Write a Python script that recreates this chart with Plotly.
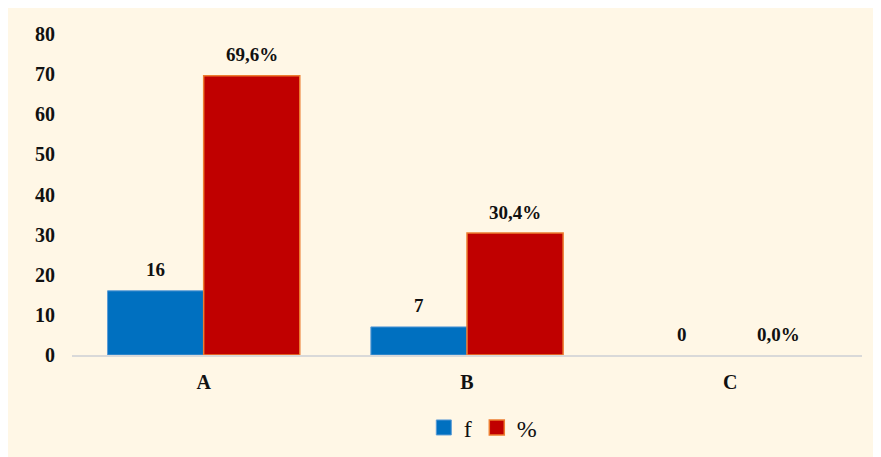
import plotly.graph_objects as go

categories = ["A", "B", "C"]
f_values = [16, 7, 0]
pct_values = [69.6, 30.4, 0.0]
y_ticks = [0, 10, 20, 30, 40, 50, 60, 70, 80]

L, R, T, B = 64, 27, 26, 110
W, H = 881, 457

font_fam = "Liberation Serif, Times New Roman, serif"
bg = "#FFF7E6"

fig = go.Figure()
fig.add_trace(go.Bar(
    name="f", x=categories, y=f_values, showlegend=False,
    marker=dict(color="#0070C0",
                line=dict(color="#5B9BD5", width=[1 if v else 0 for v in f_values])),
    offsetgroup="f",
))
fig.add_trace(go.Bar(
    name="%", x=categories, y=pct_values, showlegend=False,
    marker=dict(color="#C00000",
                line=dict(color="#ED7D31", width=[1.5 if v else 0 for v in pct_values])),
    offsetgroup="p",
))
# legend entries with larger square swatches
fig.add_trace(go.Scatter(name="f", x=[None], y=[None], mode="markers",
                         marker=dict(symbol="square", size=15, color="#0070C0",
                                     line=dict(color="#5B9BD5", width=1))))
fig.add_trace(go.Scatter(name="%", x=[None], y=[None], mode="markers",
                         marker=dict(symbol="square", size=15, color="#C00000",
                                     line=dict(color="#ED7D31", width=1.5))))

for c, v in zip(categories, f_values):
    fig.add_annotation(x=c, y=v, text="<b>%d</b>" % v, showarrow=False,
                       xshift=-48, yshift=21, yanchor="middle",
                       font=dict(family=font_fam, size=19, color="#111111"))
for c, v in zip(categories, pct_values):
    fig.add_annotation(x=c, y=v, text="<b>%s%%</b>" % ("%.1f" % v).replace(".", ","),
                       showarrow=False, xshift=48, yshift=21, yanchor="middle",
                       font=dict(family=font_fam, size=19, color="#111111"))

fig.update_layout(
    width=W, height=H,
    margin=dict(l=L, r=R, t=T, b=B),
    paper_bgcolor=bg,
    plot_bgcolor=bg,
    bargap=0.27, bargroupgap=0,
    barmode="group",
    showlegend=True,
    legend=dict(orientation="h", x=0.52, xanchor="center", y=-0.227, yanchor="middle",
                font=dict(family=font_fam, size=24, color="#111111"),
                bgcolor="rgba(0,0,0,0)", itemwidth=30, traceorder="normal"),
    font=dict(family=font_fam),
)
fig.update_xaxes(
    showline=True, linecolor="#D9D9D9", linewidth=2,
    tickfont=dict(family=font_fam, size=20, color="#111111"),
    ticks="", ticklabelstandoff=8,
    tickvals=categories, ticktext=["<b>%s</b>" % c for c in categories],
)
fig.update_yaxes(
    range=[0, 80], tickvals=y_ticks,
    ticktext=["<b>%d</b>" % v for v in y_ticks],
    showgrid=False, zeroline=False, showline=False,
    tickfont=dict(family=font_fam, size=20, color="#111111"),
    ticklabelstandoff=16,
)

fig.write_html("out.html")
